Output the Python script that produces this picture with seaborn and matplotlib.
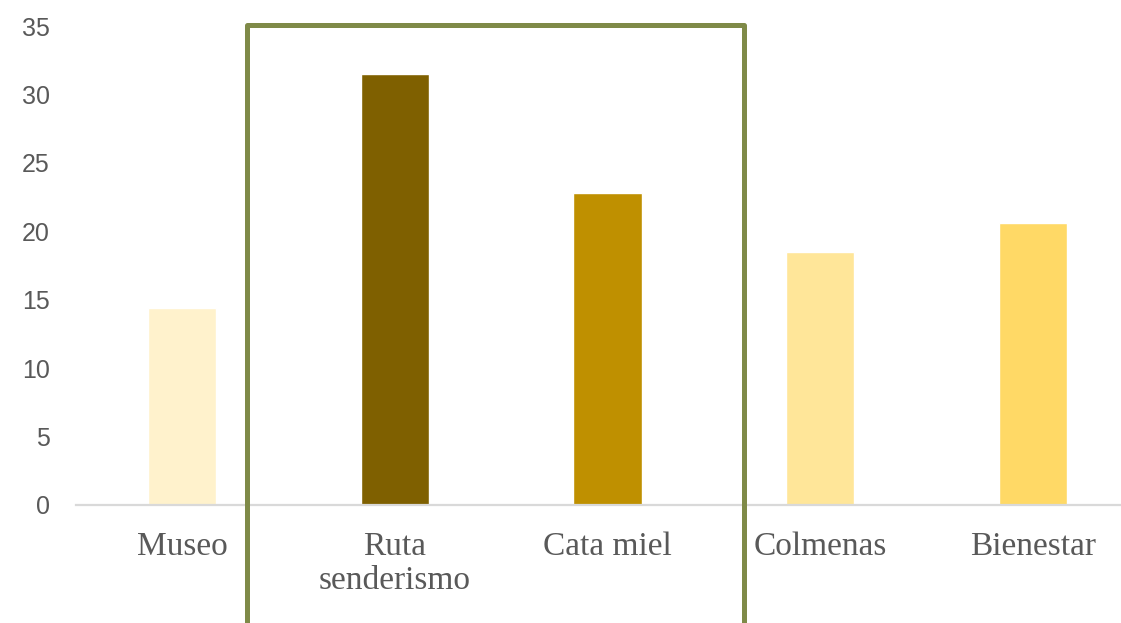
import matplotlib
matplotlib.use("Agg")
import matplotlib.pyplot as plt
import matplotlib.patches as patches
import seaborn as sns
import pandas as pd

# data
categories = ["Museo", "Ruta\nsenderismo", "Cata miel", "Colmenas", "Bienestar"]
values = [14.4, 31.5, 22.8, 18.5, 20.6]
bar_colors = ["#FFF2CC", "#7F6000", "#BF9000", "#FFE699", "#FFD966"]
y_ticks = [0, 5, 10, 15, 20, 25, 30, 35]

df = pd.DataFrame({"cat": categories, "val": values})

sns.set_style("white")

fig = plt.figure(figsize=(11.21, 6.23), dpi=100)
# axes runs past the right edge of the picture, as in the reference
ax = fig.add_axes([76 / 1121, 1 - 505 / 623, 1063 / 1121, (505 - 26) / 623])

sns.barplot(data=df, x="cat", y="val", hue="cat", palette=bar_colors,
            width=0.32, legend=False, ax=ax, saturation=1)

ax.set_xlim(-0.5, 4.5)
ax.set_ylim(0, 35)
ax.set_yticks(y_ticks)
ax.set_xlabel("")
ax.set_ylabel("")

for s in ["top", "right", "left"]:
    ax.spines[s].set_visible(False)
ax.spines["bottom"].set_color("#D9D9D9")
ax.spines["bottom"].set_linewidth(1.6)

ax.tick_params(axis="y", length=0, pad=19, labelsize=18, labelcolor="#595959")
ax.tick_params(axis="x", length=0, pad=19, labelcolor="#595959")
for lab in ax.get_yticklabels():
    lab.set_family("Liberation Sans")
for lab in ax.get_xticklabels():
    lab.set_family("Liberation Serif")
    lab.set_fontsize(24)
    lab.set_linespacing(1.15)

# highlight box around the two middle categories
box = patches.Rectangle((0.304, -20), 2.644 - 0.304, 35.1 + 20,
                        fill=False, edgecolor="#7F8A48", linewidth=3.6,
                        joinstyle="round", clip_on=False, zorder=5)
ax.add_patch(box)

fig.savefig("out.png", dpi=100)
